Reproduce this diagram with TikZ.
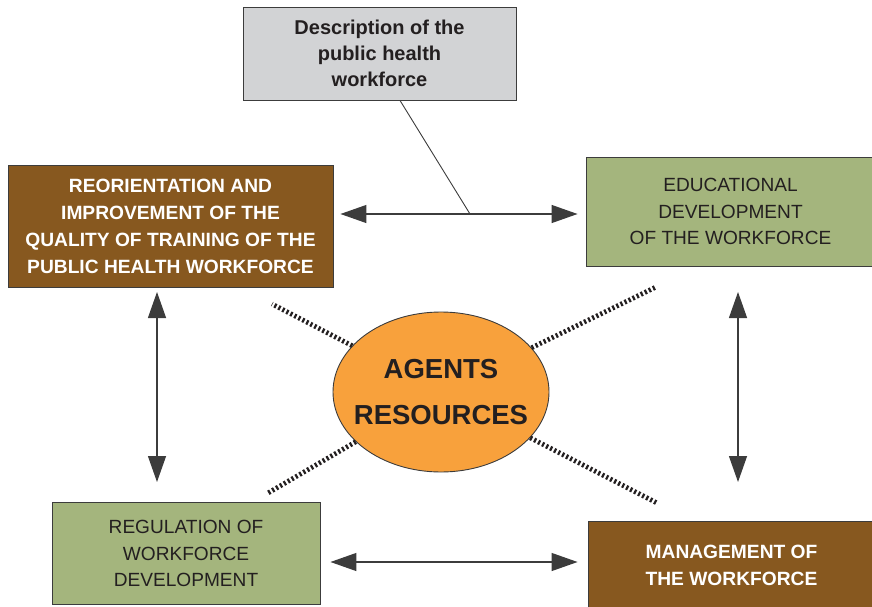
\documentclass[tikz,border=0pt]{standalone}
\usepackage{fontspec}
\setmainfont{Liberation Sans}
\usetikzlibrary{arrows.meta,shapes.geometric}

\definecolor{boxbrown}{HTML}{87581F}
\definecolor{boxgreen}{HTML}{A4B57D}
\definecolor{descgray}{HTML}{D2D3D5}
\definecolor{agentorange}{HTML}{F8A13C}
\definecolor{inkdark}{HTML}{231F20}
\definecolor{boxline}{HTML}{3C3C3C}

\begin{document}
\begin{tikzpicture}[x=1pt,y=-1pt,
  box/.style={draw=boxline,line width=0.9pt,inner sep=0pt,align=center},
  brownbox/.style={box,fill=boxbrown,text=white,
    font=\fontsize{19.2}{27}\selectfont\bfseries},
  greenbox/.style={box,fill=boxgreen,text=inkdark,
    font=\fontsize{19.1}{26.5}\selectfont},
  biarrow/.style={{Triangle[length=26pt,width=18pt]}-{Triangle[length=26pt,width=18pt]},
    line width=1.3pt,draw=boxline,fill=inkdark},
  dotline/.style={line width=4.8pt,dash pattern=on 2.2pt off 2.3pt,draw=inkdark}]
  \useasboundingbox (0,0) rectangle (872,607);

  % boxes
  \node[box,fill=descgray,text=inkdark,minimum width=273pt,minimum height=93pt,
    font=\fontsize{20}{26}\selectfont\bfseries] (desc) at (379.5,53.5)
    {Description of the\\public health\\workforce};
  \node[brownbox,minimum width=325pt,minimum height=122pt] (reorient) at (170.5,226.5)
    {REORIENTATION AND\\IMPROVEMENT OF THE\\QUALITY OF TRAINING OF THE\\PUBLIC HEALTH WORKFORCE};
  \node[greenbox,minimum width=289pt,minimum height=109pt] (educ) at (730.5,211.5)
    {EDUCATIONAL\\DEVELOPMENT\\OF THE WORKFORCE};
  \node[greenbox,minimum width=268pt,minimum height=102pt] (regul) at (186,553.5)
    {REGULATION OF\\WORKFORCE\\DEVELOPMENT};
  \node[brownbox,minimum width=287pt,minimum height=88pt] (manage) at (731.5,565.5)
    {MANAGEMENT OF\\THE WORKFORCE};

  % centre
  \node[ellipse,draw=boxline,line width=0.9pt,fill=agentorange,text=inkdark,
    minimum width=216pt,minimum height=160pt,inner ysep=0pt,inner xsep=-12pt,align=center,
    font=\fontsize{27.5}{46}\selectfont\bfseries] (agents) at (441,392)
    {AGENTS\\RESOURCES};

  % arrows between boxes
  \coordinate (mid) at (470,214);
  \draw[biarrow,shorten <=7pt,shorten >=8pt] (reorient.east |- mid) -- (educ.west |- mid);
  \draw[biarrow,shorten <=10pt,shorten >=10pt] (regul.east |- 0,562) -- (manage.west |- 0,562);
  \draw[biarrow] (157,292) -- (157,482);
  \draw[biarrow] (738,292) -- (738,482);
  \draw[boxline,line width=0.9pt] ([xshift=20.5pt]desc.south) -- (mid);

  % dotted rays
  \coordinate (ray1) at (272,304);
  \coordinate (ray2) at (656,287);
  \coordinate (ray3) at (268,493);
  \coordinate (ray4) at (657,503);
  \foreach \r in {ray1,ray2,ray3,ray4}
    \draw[dotline] (agents) -- (\r);
\end{tikzpicture}
\end{document}
